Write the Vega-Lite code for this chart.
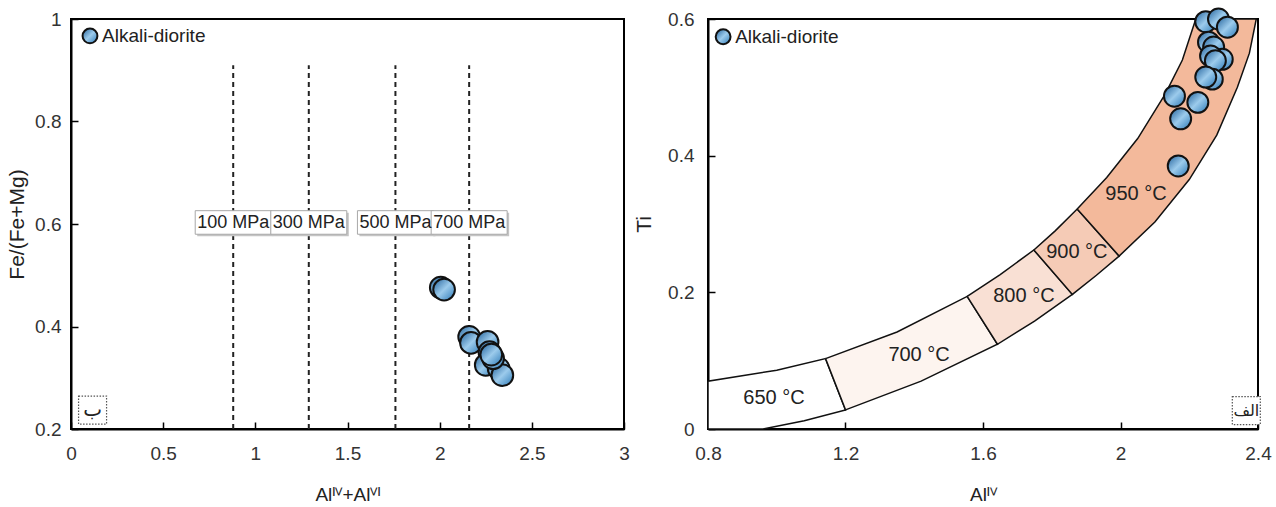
{
  "$schema": "https://vega.github.io/schema/vega-lite/v6.json",
  "background": "white",
  "padding": {"left": 5, "top": 3, "right": 5, "bottom": 2},
  "spacing": 84,
  "bounds": "flush",
  "config": {
    "font": "Liberation Sans",
    "view": {"stroke": "black", "strokeWidth": 2},
    "axis": {
      "domainColor": "black", "domainWidth": 2,
      "tickColor": "black", "tickWidth": 1.5, "tickSize": -7,
      "grid": false, "labelFlush": false, "labelOverlap": false,
      "labelFont": "Liberation Sans", "labelFontSize": 19, "labelColor": "#333",
      "titleFont": "Liberation Sans", "titleFontSize": 19, "titleFontWeight": "normal", "titleColor": "#222"
    },
    "axisX": {"labelPadding": 22, "titleY": 71, "titleBaseline": "alphabetic"},
    "axisY": {"labelPadding": 17, "titleBaseline": "middle", "titleFontSize": 21},
    "text": {"font": "Liberation Sans", "color": "#222"}
  },
  "datasets": {
    "leftPts": [
      {"x": 2.006, "y": 0.476}, {"x": 2.024, "y": 0.472},
      {"x": 2.16, "y": 0.38}, {"x": 2.17, "y": 0.368},
      {"x": 2.26, "y": 0.37}, {"x": 2.27, "y": 0.35},
      {"x": 2.25, "y": 0.325}, {"x": 2.32, "y": 0.318},
      {"x": 2.34, "y": 0.305}, {"x": 2.29, "y": 0.338},
      {"x": 2.28, "y": 0.345}
    ],
    "pressure": [
      {"x": 0.88, "y": 0.603, "t": "100 MPa"},
      {"x": 1.29, "y": 0.603, "t": "300 MPa"},
      {"x": 1.76, "y": 0.603, "t": "500 MPa"},
      {"x": 2.16, "y": 0.603, "t": "700 MPa"}
    ],
    "rightPts": [
      {"x": 2.248, "y": 0.596}, {"x": 2.285, "y": 0.6}, {"x": 2.311, "y": 0.588},
      {"x": 2.256, "y": 0.566}, {"x": 2.271, "y": 0.559}, {"x": 2.296, "y": 0.541},
      {"x": 2.262, "y": 0.546}, {"x": 2.276, "y": 0.539}, {"x": 2.267, "y": 0.512},
      {"x": 2.248, "y": 0.515}, {"x": 2.157, "y": 0.487}, {"x": 2.225, "y": 0.478},
      {"x": 2.175, "y": 0.454}, {"x": 2.168, "y": 0.385}
    ],
    "zones": [
      {"zone": "650", "o": 0, "x": 0.8, "y": 0}, {"zone": "650", "o": 1, "x": 0.8, "y": 0.07},
      {"zone": "650", "o": 2, "x": 1.0, "y": 0.086}, {"zone": "650", "o": 3, "x": 1.142, "y": 0.103},
      {"zone": "650", "o": 4, "x": 1.2, "y": 0.028}, {"zone": "650", "o": 5, "x": 1.08, "y": 0.012},
      {"zone": "650", "o": 6, "x": 0.96, "y": 0}, {"zone": "650", "o": 7, "x": 0.8, "y": 0},
      {"zone": "700", "o": 0, "x": 1.142, "y": 0.103}, {"zone": "700", "o": 1, "x": 1.35, "y": 0.142},
      {"zone": "700", "o": 2, "x": 1.554, "y": 0.194}, {"zone": "700", "o": 3, "x": 1.642, "y": 0.124},
      {"zone": "700", "o": 4, "x": 1.42, "y": 0.07}, {"zone": "700", "o": 5, "x": 1.2, "y": 0.028},
      {"zone": "700", "o": 6, "x": 1.142, "y": 0.103},
      {"zone": "800", "o": 0, "x": 1.554, "y": 0.194}, {"zone": "800", "o": 1, "x": 1.65, "y": 0.226},
      {"zone": "800", "o": 2, "x": 1.748, "y": 0.262}, {"zone": "800", "o": 3, "x": 1.86, "y": 0.197},
      {"zone": "800", "o": 4, "x": 1.75, "y": 0.158}, {"zone": "800", "o": 5, "x": 1.642, "y": 0.124},
      {"zone": "800", "o": 6, "x": 1.554, "y": 0.194},
      {"zone": "900", "o": 0, "x": 1.748, "y": 0.262}, {"zone": "900", "o": 1, "x": 1.81, "y": 0.29},
      {"zone": "900", "o": 2, "x": 1.874, "y": 0.322}, {"zone": "900", "o": 3, "x": 1.996, "y": 0.253},
      {"zone": "900", "o": 4, "x": 1.93, "y": 0.225}, {"zone": "900", "o": 5, "x": 1.86, "y": 0.197},
      {"zone": "900", "o": 6, "x": 1.748, "y": 0.262},
      {"zone": "950", "o": 0, "x": 1.874, "y": 0.322}, {"zone": "950", "o": 1, "x": 1.96, "y": 0.368},
      {"zone": "950", "o": 2, "x": 2.05, "y": 0.425}, {"zone": "950", "o": 3, "x": 2.13, "y": 0.49},
      {"zone": "950", "o": 4, "x": 2.18, "y": 0.54}, {"zone": "950", "o": 5, "x": 2.219, "y": 0.6},
      {"zone": "950", "o": 6, "x": 2.395, "y": 0.6}, {"zone": "950", "o": 7, "x": 2.375, "y": 0.55},
      {"zone": "950", "o": 8, "x": 2.34, "y": 0.5}, {"zone": "950", "o": 9, "x": 2.28, "y": 0.43},
      {"zone": "950", "o": 10, "x": 2.2, "y": 0.365}, {"zone": "950", "o": 11, "x": 2.1, "y": 0.303},
      {"zone": "950", "o": 12, "x": 1.996, "y": 0.253}, {"zone": "950", "o": 13, "x": 1.874, "y": 0.322}
    ],
    "temps": [
      {"x": 0.992, "y": 0.046, "t": "650 °C"},
      {"x": 1.414, "y": 0.109, "t": "700 °C"},
      {"x": 1.719, "y": 0.194, "t": "800 °C"},
      {"x": 1.873, "y": 0.259, "t": "900 °C"},
      {"x": 2.045, "y": 0.344, "t": "950 °C"}
    ]
  },
  "hconcat": [
    {
      "width": 553,
      "height": 410,
      "layer": [
        {
          "data": {"values": [{"x": 0.88}, {"x": 1.29}, {"x": 1.76}, {"x": 2.16}]},
          "mark": {"type": "rule", "strokeDash": [5, 4], "strokeWidth": 2, "color": "#222"},
          "encoding": {
            "x": {"field": "x", "type": "quantitative", "scale": {"domain": [0, 3], "nice": false},
                  "axis": {"values": [0, 0.5, 1, 1.5, 2, 2.5, 3], "format": "~g", "title": "Alᴵⱽ+Alⱽᴵ"}},
            "y": {"datum": 0.2, "type": "quantitative", "scale": {"domain": [0.2, 1], "nice": false},
                  "axis": {"values": [0.2, 0.4, 0.6, 0.8, 1], "format": "~g", "title": "Fe/(Fe+Mg)", "titleX": -54}},
            "y2": {"datum": 0.91}
          }
        },
        {
          "data": {"name": "pressure"},
          "mark": {"type": "point", "shape": "M-1,-0.31H1V0.31H-1Z", "filled": true, "fill": "#c4c4c4", "strokeWidth": 0, "size": 5776, "opacity": 1, "xOffset": 2, "yOffset": 2},
          "encoding": {"x": {"field": "x", "type": "quantitative"}, "y": {"field": "y", "type": "quantitative"}}
        },
        {
          "data": {"name": "pressure"},
          "mark": {"type": "point", "shape": "M-1,-0.31H1V0.31H-1Z", "filled": true, "fill": "white", "stroke": "#a8a8a8", "strokeWidth": 1, "size": 5776, "opacity": 1},
          "encoding": {"x": {"field": "x", "type": "quantitative"}, "y": {"field": "y", "type": "quantitative"}}
        },
        {
          "data": {"name": "pressure"},
          "mark": {"type": "text", "fontSize": 18, "baseline": "middle", "dy": 1},
          "encoding": {"x": {"field": "x", "type": "quantitative"}, "y": {"field": "y", "type": "quantitative"}, "text": {"field": "t"}}
        },
        {
          "data": {"name": "leftPts"},
          "mark": {"type": "point", "filled": true, "size": 470, "opacity": 1, "stroke": "#111", "strokeWidth": 2,
                   "fill": {"gradient": "linear", "x1": 0, "y1": 0, "x2": 1, "y2": 1,
                            "stops": [{"offset": 0, "color": "#1f5f99"}, {"offset": 0.5, "color": "#9ccbec"}, {"offset": 1, "color": "#2a78b6"}]}},
          "encoding": {"x": {"field": "x", "type": "quantitative"}, "y": {"field": "y", "type": "quantitative"}}
        },
        {
          "data": {"values": [{"x": 0.103, "y": 0.967, "t": "Alkali-diorite"}]},
          "layer": [
            {
              "mark": {"type": "point", "filled": true, "size": 220, "opacity": 1, "stroke": "#111", "strokeWidth": 2,
                       "fill": {"gradient": "linear", "x1": 0, "y1": 0, "x2": 1, "y2": 1,
                                "stops": [{"offset": 0, "color": "#1f5f99"}, {"offset": 0.5, "color": "#9ccbec"}, {"offset": 1, "color": "#2a78b6"}]}},
              "encoding": {"x": {"field": "x", "type": "quantitative"}, "y": {"field": "y", "type": "quantitative"}}
            },
            {
              "mark": {"type": "text", "fontSize": 19, "align": "left", "baseline": "middle", "dx": 12},
              "encoding": {"x": {"field": "x", "type": "quantitative"}, "y": {"field": "y", "type": "quantitative"}, "text": {"field": "t"}}
            }
          ]
        },
        {
          "data": {"values": [{"x": 0.117, "y": 0.237, "t": "ب"}]},
          "layer": [
            {
              "mark": {"type": "square", "size": 784, "fill": "white", "filled": true, "opacity": 1, "stroke": "#555", "strokeWidth": 1.2, "strokeDash": [1.5, 1.5]},
              "encoding": {"x": {"field": "x", "type": "quantitative"}, "y": {"field": "y", "type": "quantitative"}}
            },
            {
              "mark": {"type": "text", "fontSize": 20, "baseline": "middle", "font": "DejaVu Sans"},
              "encoding": {"x": {"field": "x", "type": "quantitative"}, "y": {"field": "y", "type": "quantitative"}, "text": {"field": "t"}}
            }
          ]
        }
      ]
    },
    {
      "width": 550,
      "height": 410,
      "layer": [
        {
          "data": {"name": "zones"},
          "mark": {"type": "line", "stroke": "#111", "strokeWidth": 1.5, "interpolate": "linear"},
          "encoding": {
            "x": {"field": "x", "type": "quantitative", "scale": {"domain": [0.8, 2.4], "nice": false},
                  "axis": {"values": [0.8, 1.2, 1.6, 2, 2.4], "format": "~g", "title": "Alᴵⱽ"}},
            "y": {"field": "y", "type": "quantitative", "scale": {"domain": [0, 0.6], "nice": false},
                  "axis": {"values": [0, 0.2, 0.4, 0.6], "format": "~g", "title": "Ti", "titleX": -64, "labelPadding": 21}},
            "detail": {"field": "zone"},
            "order": {"field": "o", "type": "quantitative"},
            "fill": {"field": "zone", "type": "nominal", "legend": null,
                     "scale": {"domain": ["650", "700", "800", "900", "950"], "range": ["#ffffff", "#fdf4ef", "#f9e0d4", "#f5cbb6", "#f3b99b"]}}
          }
        },
        {
          "data": {"name": "temps"},
          "mark": {"type": "text", "fontSize": 20, "baseline": "middle"},
          "encoding": {"x": {"field": "x", "type": "quantitative"}, "y": {"field": "y", "type": "quantitative"}, "text": {"field": "t"}}
        },
        {
          "data": {"name": "rightPts"},
          "mark": {"type": "point", "filled": true, "size": 440, "opacity": 1, "stroke": "#111", "strokeWidth": 2,
                   "fill": {"gradient": "linear", "x1": 0, "y1": 0, "x2": 1, "y2": 1,
                            "stops": [{"offset": 0, "color": "#1f5f99"}, {"offset": 0.5, "color": "#9ccbec"}, {"offset": 1, "color": "#2a78b6"}]}},
          "encoding": {"x": {"field": "x", "type": "quantitative"}, "y": {"field": "y", "type": "quantitative"}}
        },
        {
          "data": {"values": [{"x": 0.844, "y": 0.574, "t": "Alkali-diorite"}]},
          "layer": [
            {
              "mark": {"type": "point", "filled": true, "size": 220, "opacity": 1, "stroke": "#111", "strokeWidth": 2,
                       "fill": {"gradient": "linear", "x1": 0, "y1": 0, "x2": 1, "y2": 1,
                                "stops": [{"offset": 0, "color": "#1f5f99"}, {"offset": 0.5, "color": "#9ccbec"}, {"offset": 1, "color": "#2a78b6"}]}},
              "encoding": {"x": {"field": "x", "type": "quantitative"}, "y": {"field": "y", "type": "quantitative"}}
            },
            {
              "mark": {"type": "text", "fontSize": 19, "align": "left", "baseline": "middle", "dx": 12},
              "encoding": {"x": {"field": "x", "type": "quantitative"}, "y": {"field": "y", "type": "quantitative"}, "text": {"field": "t"}}
            }
          ]
        },
        {
          "data": {"values": [{"x": 2.366, "y": 0.027, "t": "الف"}]},
          "layer": [
            {
              "mark": {"type": "square", "size": 784, "fill": "white", "filled": true, "opacity": 1, "stroke": "#555", "strokeWidth": 1.2, "strokeDash": [1.5, 1.5]},
              "encoding": {"x": {"field": "x", "type": "quantitative"}, "y": {"field": "y", "type": "quantitative"}}
            },
            {
              "mark": {"type": "text", "fontSize": 16, "baseline": "middle", "font": "DejaVu Sans"},
              "encoding": {"x": {"field": "x", "type": "quantitative"}, "y": {"field": "y", "type": "quantitative"}, "text": {"field": "t"}}
            }
          ]
        }
      ]
    }
  ]
}
